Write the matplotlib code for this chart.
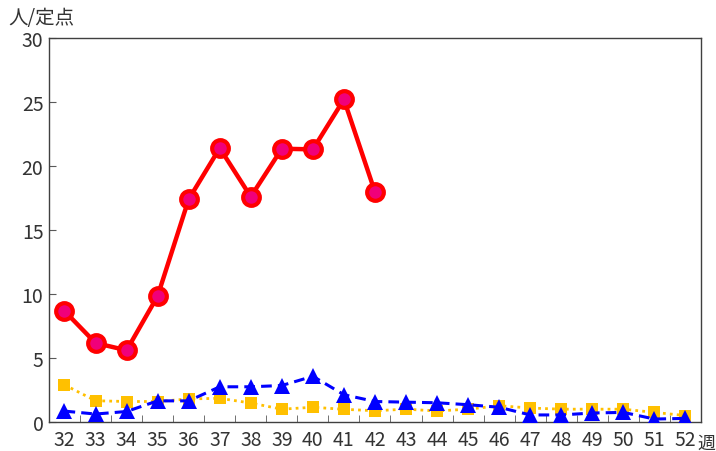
import matplotlib
matplotlib.use('Agg')
import matplotlib.pyplot as plt
import numpy as np

plt.rcParams['font.family'] = ['Noto Sans CJK JP', 'DejaVu Sans']

weeks = [str(w) for w in range(32, 53)]
red_vals = [8.67, 6.17, 5.6, 9.84, 17.4, 21.4, 17.6, 21.35, 21.3, 25.2, 17.97]
yellow_vals = [2.9, 1.66, 1.6, 1.6, 1.8, 1.85, 1.48, 1.0, 1.15, 0.99, 0.88,
               1.0, 0.86, 1.0, 1.27, 1.09, 1.0, 1.0, 1.0, 0.75, 0.5]
blue_vals = [0.85, 0.62, 0.82, 1.65, 1.65, 2.75, 2.75, 2.85, 3.57, 2.13, 1.6,
             1.55, 1.5, 1.35, 1.15, 0.55, 0.55, 0.7, 0.75, 0.23, 0.28]

fig = plt.figure(figsize=(7.16, 4.52), dpi=100)
ax = fig.add_axes([0.0684, 0.0642, 0.9106, 0.8495])

x = np.arange(len(weeks))

# 黄色(点線・四角)
ax.plot(x[:len(yellow_vals)], yellow_vals, color='#FFC000', linestyle=(0, (1, 1.5)),
        linewidth=2, marker='s', markersize=9, markeredgewidth=0, zorder=3)
# 青(破線・三角)
ax.plot(x[:len(blue_vals)], blue_vals, color='#0000FF', linestyle=(0, (3.5, 2)),
        linewidth=2.2, marker='^', markersize=11, markeredgewidth=0, zorder=4)
# 赤(実線・丸)
ax.plot(x[:len(red_vals)], red_vals, color='#FF0000', linewidth=3.2,
        marker='o', markersize=12, markerfacecolor='#F0007A',
        markeredgecolor='#FF0000', markeredgewidth=3, zorder=5)

ax.set_xlim(-0.5, len(weeks) - 0.5)
ax.set_ylim(0, 30)
ax.set_yticks(range(0, 31, 5))
ax.set_xticks(x)
ax.set_xticklabels(weeks)
ax.set_xticks(np.arange(0.5, len(weeks) - 1, 1), minor=True)

ax.tick_params(axis='x', which='major', length=0, labelsize=14, colors='#333333', pad=5)
ax.tick_params(axis='x', which='minor', direction='in', length=5, color='#595959')
ax.tick_params(axis='y', direction='in', length=5, color='#595959',
               labelsize=14, labelcolor='#333333', pad=4)

for s in ax.spines.values():
    s.set_color('#404040')
    s.set_linewidth(1)

fig.text(0.011, 0.96, '人/定点', fontsize=14, color='#333333', ha='left', va='center')
fig.text(0.974, 0.018, '週', fontsize=13, color='#333333', ha='left', va='center')

fig.savefig('out.png', dpi=100)
